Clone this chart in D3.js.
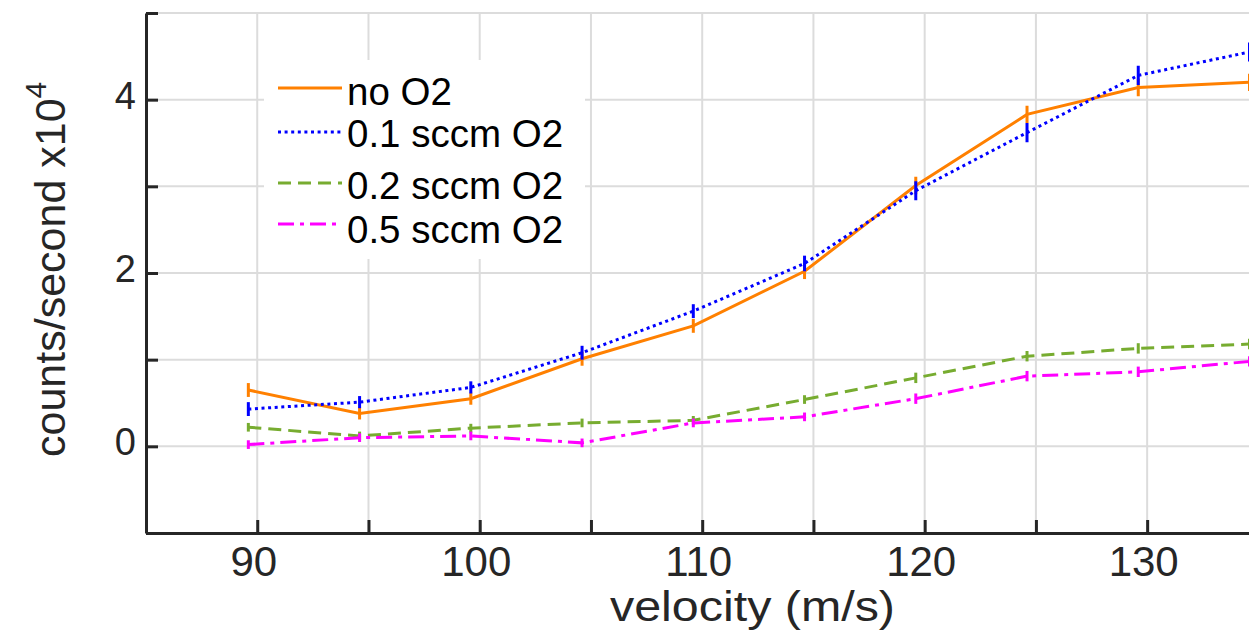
<!doctype html>
<html lang="en">
  <head>
    <meta charset="UTF-8" />
    <title>counts vs velocity</title>
    <script src="https://cdn.jsdelivr.net/npm/d3@7"></script>
    <style>
      body { margin: 0; background: #fff; }
      svg { display: block; font-family: "Liberation Sans", Arial, Helvetica, sans-serif; }
    </style>
  </head>
  <body>
    <div id="graph-wrapper"></div>
    <script>
      // values (counts/second in units of 1e4)
      const velocity = [89.6, 94.6, 99.6, 104.6, 109.6, 114.6, 119.6, 124.6, 129.6, 134.6];
      const noO2   = [0.65, 0.38, 0.55, 1.01, 1.39, 2.02, 3.01, 3.83, 4.14, 4.20];
      const sccm01 = [0.43, 0.51, 0.68, 1.08, 1.56, 2.11, 2.95, 3.62, 4.28, 4.55];
      const sccm02 = [0.22, 0.12, 0.21, 0.27, 0.30, 0.54, 0.79, 1.04, 1.13, 1.18];
      const sccm05 = [0.02, 0.10, 0.12, 0.04, 0.27, 0.34, 0.55, 0.81, 0.86, 0.98];
      const errNoO2   = [0.08, 0.07, 0.07, 0.08, 0.08, 0.09, 0.10, 0.10, 0.10, 0.10];
      const err01     = [0.08, 0.07, 0.07, 0.08, 0.08, 0.09, 0.11, 0.11, 0.11, 0.11];
      const err02     = [0.05, 0.05, 0.05, 0.05, 0.05, 0.05, 0.06, 0.06, 0.06, 0.06];
      const err05     = [0.05, 0.05, 0.05, 0.05, 0.05, 0.05, 0.06, 0.06, 0.06, 0.06];
      const seriesNames = ["no O2", "0.1 sccm O2", "0.2 sccm O2", "0.5 sccm O2"];
      const seriesValues = [noO2, sccm01, sccm02, sccm05];
      const seriesErrors = [errNoO2, err01, err02, err05];
      const xTicks = [90, 95, 100, 105, 110, 115, 120, 125, 130, 135];
      const yTicks = [-1, 0, 1, 2, 3, 4, 5];

      const colors = ["#ff8000", "#0000ff", "#77ac30", "#ff00ff"];
      const dashes = [null, "3,3.6", "13,7", "16,6,4,6"];

      const width = 1249;
      const height = 639;
      const marginLeft = 146, plotRight = 1258.4, marginTop = 13, plotBottom = 533;
      const axisColor = "#262626";

      const x = d3.scaleLinear().domain([85, 135]).range([marginLeft, plotRight]);
      const y = d3.scaleLinear().domain([-1, 5]).range([plotBottom, marginTop]);

      const svg = d3.select("#graph-wrapper").append("svg")
        .attr("width", width)
        .attr("height", height);

      // grid
      const grid = svg.append("g").attr("stroke", "#dcdcdc").attr("stroke-width", 2);
      grid.selectAll(".gx").data(xTicks).enter().append("line")
        .attr("x1", d => x(d)).attr("x2", d => x(d))
        .attr("y1", marginTop).attr("y2", plotBottom);
      grid.selectAll(".gy").data(yTicks).enter().append("line")
        .attr("x1", marginLeft).attr("x2", plotRight)
        .attr("y1", d => y(d)).attr("y2", d => y(d));

      svg.append("clipPath").attr("id", "plot-clip")
        .append("rect").attr("x", marginLeft).attr("y", marginTop - 4)
        .attr("width", plotRight - marginLeft + 4).attr("height", plotBottom - marginTop + 4);

      const plot = svg.append("g").attr("clip-path", "url(#plot-clip)");
      const line = d3.line().x((d, i) => x(velocity[i])).y(d => y(d));

      seriesValues.forEach((vals, s) => {
        const g = plot.append("g");
        g.append("path")
          .attr("d", line(vals))
          .attr("fill", "none")
          .attr("stroke", colors[s])
          .attr("stroke-width", 3)
          .attr("stroke-dasharray", dashes[s]);
        // error bars
        g.selectAll("line").data(vals).enter().append("line")
          .attr("x1", (d, i) => x(velocity[i]))
          .attr("x2", (d, i) => x(velocity[i]))
          .attr("y1", (d, i) => y(d - seriesErrors[s][i]))
          .attr("y2", (d, i) => y(d + seriesErrors[s][i]))
          .attr("stroke", colors[s])
          .attr("stroke-width", 3);
      });

      // axes
      const xAxis = d3.axisBottom(x)
        .tickValues(xTicks)
        .tickSizeInner(-13).tickSizeOuter(0).tickPadding(13)
        .tickFormat(d => d % 10 === 0 ? d : "");
      const yAxis = d3.axisLeft(y)
        .tickValues(yTicks)
        .tickSizeInner(-12).tickSizeOuter(0).tickPadding(10)
        .tickFormat(d => d % 2 === 0 && d >= 0 ? d : "");

      const gx = svg.append("g").attr("transform", `translate(0,${plotBottom})`).call(xAxis);
      const gy = svg.append("g").attr("transform", `translate(${marginLeft},0)`).call(yAxis);
      [gx, gy].forEach(g => {
        g.select(".domain").attr("stroke", axisColor).attr("stroke-width", 3);
        g.selectAll(".tick line").attr("stroke", axisColor).attr("stroke-width", 3);
        g.selectAll("text").attr("fill", axisColor).attr("font-family", "Liberation Sans, Arial, sans-serif");
      });
      gx.selectAll("text").attr("font-size", 42).attr("dx", -4);
      gy.selectAll("text").attr("font-size", 38).attr("dy", "0.22em");

      // axis labels
      svg.append("text")
        .text("velocity (m/s)")
        .attr("x", 610).attr("y", 621)
        .attr("font-size", 42)
        .attr("textLength", 285)
        .attr("lengthAdjust", "spacingAndGlyphs")
        .attr("fill", axisColor);

      const ylab = svg.append("text")
        .attr("transform", "translate(65,457) rotate(-90)")
        .attr("font-size", 43)
        .attr("fill", axisColor);
      ylab.append("tspan").text("counts/second x10");
      ylab.append("tspan").text("4").attr("font-size", 30).attr("dy", -19);

      // legend
      const legend = svg.append("g").attr("id", "legend");
      legend.append("rect")
        .attr("x", 264).attr("y", 60)
        .attr("width", 321).attr("height", 199)
        .attr("fill", "white");
      const rowY = [88, 132, 183, 224];
      const textY = [105, 147, 199, 243];
      seriesNames.forEach((name, s) => {
        legend.append("line")
          .attr("x1", 278).attr("x2", 342)
          .attr("y1", rowY[s]).attr("y2", rowY[s])
          .attr("stroke", colors[s])
          .attr("stroke-width", 3)
          .attr("stroke-dasharray", dashes[s]);
        legend.append("text")
          .text(name)
          .attr("x", 347).attr("y", textY[s])
          .attr("font-size", 38.5)
          .attr("fill", "black");
      });
    </script>
  </body>
</html>
